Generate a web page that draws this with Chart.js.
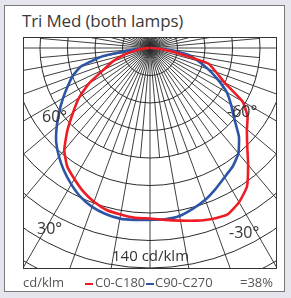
<!DOCTYPE html>
<html>
<head>
<meta charset="utf-8">
<script src="https://cdn.jsdelivr.net/npm/chart.js@4/dist/chart.umd.min.js"></script>
<style>
  html, body { margin: 0; padding: 0; }
  body { width: 291px; height: 298px; background: #e5e5ee; position: relative; overflow: hidden;
         font-family: "Open Sans", "DejaVu Sans", sans-serif; color: #333; }
  #panel { position: absolute; left: 4px; top: 5px; width: 281px; height: 287px; background: #fff;
           border: 1px solid #7a7a7a; box-sizing: border-box; }
  #box { position: absolute; left: 23px; top: 37px; width: 254px; height: 232px; border: 1px solid #333;
         box-sizing: border-box; overflow: hidden; background: #fff; }
  #box canvas { position: absolute; left: -149px; top: -265px; }
  .t { position: absolute; white-space: nowrap; line-height: 1; }
</style>
</head>
<body>
<div id="panel"></div>
<div class="t" id="title" style="left:22px; top:12px; font-size:17px; letter-spacing:-0.15px; color:#3a3a3a;">Tri Med (both lamps)</div>
<div id="box"><canvas id="c" width="550" height="550"></canvas></div>
<div class="t" style="left:42px; top:108px; font-size:16px;">60°</div>
<div class="t" style="left:227px; top:103px; font-size:16px;">-60°</div>
<div class="t" style="left:37px; top:220px; font-size:16px;">30°</div>
<div class="t" style="left:229px; top:224px; font-size:16px;">-30°</div>
<div class="t" style="left:112px; top:248px; font-size:15px;">140 cd/klm</div>
<div class="t" style="left:23px; top:276px; font-size:13px; color:#555;">cd/klm</div>
<div style="position:absolute; left:85px; top:283px; width:8px; height:2px; background:#ee1c25;"></div>
<div class="t" style="left:95px; top:276px; font-size:13px; color:#555;">C0-C180</div>
<div style="position:absolute; left:146px; top:283px; width:8px; height:2px; background:#2d55a6;"></div>
<div class="t" style="left:155px; top:276px; font-size:13px; color:#555;">C90-C270</div>
<div class="t" style="left:240px; top:276px; font-size:13px; color:#555;">=38%</div>
<script>
// Gamma angles (degrees from nadir), 5° steps
const gammaLeft = [0,5,10,15,20,25,30,35,40,45,50,55,60,65,70,75,80,85,90];      // +γ (left side)
const gammaRight = [5,10,15,20,25,30,35,40,45,50,55,60,65,70,75,80,85,90];       // -γ (right side)
// Intensities, cd/klm
const c0c180Left  = [124,124,123,122,119,115,110,105,97,85,73,63,51,37,29,20,11,5,1];
const c0c180Right = [125.5,127.5,130,132.3,133.5,129.5,123,111,100,92,86.6,77.6,60,51,44,18,8,1];
const c90c270Left  = [125,125.5,126,125,123,119.5,114.5,109,103,96.5,88.5,80.5,73,66,60,52,35,12,2];
const c90c270Right = [125,124,121,117.5,113,108.5,105,100,91.5,80,72,64.5,54.5,45,36,28,12,1];
const ringMax = 200, ringStep = 20;
const fineSpokeLimit = 80;   // 5° spokes run out to this ring; 10° spokes run to the edge

const N = 72; // 5° spokes around full circle
const labels = [];
for (let k = 0; k < N; k++) labels.push(String(k * 5));
function buildSeries(left, right) {
  const arr = new Array(N).fill(null);
  gammaLeft.forEach((g, i) => { arr[g / 5] = left[i]; });
  gammaRight.forEach((g, i) => { arr[(360 - g) / 5] = right[i]; });
  return arr;
}

const spokes = {
  id: 'spokes',
  beforeDatasetsDraw(chart) {
    const s = chart.scales.r, ctx = chart.ctx;
    const c = s.getPointPositionForValue(0, 0);
    ctx.save();
    ctx.strokeStyle = '#2a2a2a';
    ctx.lineWidth = 0.9;
    for (let k = 0; k < N; k++) {
      const p = s.getPointPositionForValue(k, k % 2 === 0 ? ringMax : fineSpokeLimit);
      ctx.beginPath();
      ctx.moveTo(c.x, c.y);
      ctx.lineTo(p.x, p.y);
      ctx.stroke();
    }
    ctx.restore();
  }
};

new Chart(document.getElementById('c'), {
  type: 'radar',
  data: {
    labels: labels,
    datasets: [
      { label: 'C0-C180', data: buildSeries(c0c180Left, c0c180Right), borderColor: '#ee1c25',
        borderWidth: 2.6, pointRadius: 0, fill: false, tension: 0.15, spanGaps: false },
      { label: 'C90-C270', data: buildSeries(c90c270Left, c90c270Right), borderColor: '#2d55a6',
        borderWidth: 2.6, pointRadius: 0, fill: false, tension: 0.15, spanGaps: false }
    ]
  },
  plugins: [spokes],
  options: {
    responsive: false, animation: false,
    layout: { padding: 0 },
    plugins: { legend: { display: false }, tooltip: { enabled: false } },
    elements: { line: { borderJoinStyle: 'round', borderCapStyle: 'round' } },
    scales: {
      r: {
        min: 0, max: ringMax, startAngle: 180,
        ticks: { display: false, stepSize: ringStep },
        pointLabels: { display: false },
        grid: { circular: true, color: '#2a2a2a', lineWidth: 1 },
        angleLines: { display: false }
      }
    }
  }
});
</script>
</body>
</html>
